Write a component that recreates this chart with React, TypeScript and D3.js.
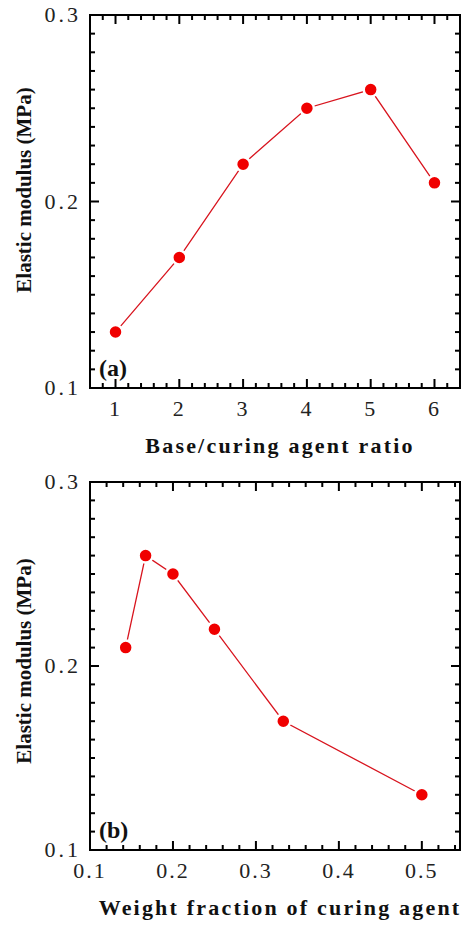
import React, { useEffect, useRef } from 'react';
import * as d3 from 'd3';

// panel (a)
const ratio = [1, 2, 3, 4, 5, 6];
const modulusA = [0.13, 0.17, 0.22, 0.25, 0.26, 0.21];
const ratioTicks = [1, 2, 3, 4, 5, 6];

// panel (b)
const weightFraction = [0.143, 0.167, 0.2, 0.25, 0.333, 0.5];
const modulusB = [0.21, 0.26, 0.25, 0.22, 0.17, 0.13];
const fractionTicks = [0.1, 0.2, 0.3, 0.4, 0.5];

const modulusTicks = [0.1, 0.2, 0.3];

const W = 462;
const H = 925;
const FONT = '"Liberation Serif", "Times New Roman", serif';

type Panel = {
  top: number;
  bottom: number;
  xDomain: [number, number];
  xs: number[];
  ys: number[];
  xTicks: number[];
  xMinor: number;
  xFormat: (d: number) => string;
  xTitle: string;
  xTitleY: number;
  tag: string;
  yTitleY: number;
};

const near = (v: number, arr: number[]) => arr.some((t) => Math.abs(t - v) < 1e-6);

function drawPanel(svg: any, p: Panel) {
  const left = 90;
  const right = 460;
  const x = d3.scaleLinear().domain(p.xDomain).range([left, right]);
  const y = d3.scaleLinear().domain([0.1, 0.3]).range([p.bottom, p.top]);

  const xMinorVals = d3.range(p.xDomain[0], p.xDomain[1] + 1e-9, p.xMinor);
  const yMinorVals = d3.range(0.1, 0.3 + 1e-9, 0.01);
  const tw = 2;

  // inward ticks as small filled bars, all four sides
  const xt = svg.append('g').attr('fill', '#000');
  xMinorVals.forEach((v) => {
    const len = near(v, p.xTicks) ? 9 : 5;
    xt.append('rect').attr('x', x(v) - tw / 2).attr('y', p.bottom - len).attr('width', tw).attr('height', len);
    xt.append('rect').attr('x', x(v) - tw / 2).attr('y', p.top).attr('width', tw).attr('height', len);
  });
  yMinorVals.forEach((v) => {
    const len = near(v, modulusTicks) ? 9 : 5;
    xt.append('rect').attr('x', left).attr('y', y(v) - tw / 2).attr('width', len).attr('height', tw);
    xt.append('rect').attr('x', right - len).attr('y', y(v) - tw / 2).attr('width', len).attr('height', tw);
  });

  svg.append('path')
    .attr('d', `M${left},${p.top}H${right}V${p.bottom}H${left}Z`)
    .attr('fill', 'none').attr('stroke', '#000').attr('stroke-width', 2);

  // tick labels
  svg.selectAll(null).data(p.xTicks).enter().append('text')
    .attr('x', (d: number) => x(d)).attr('y', p.bottom + 28)
    .attr('text-anchor', 'middle')
    .attr('font-family', FONT).attr('font-size', 22).attr('letter-spacing', 2)
    .attr('fill', '#222')
    .text(p.xFormat);

  svg.selectAll(null).data(modulusTicks).enter().append('text')
    .attr('x', left - 9).attr('y', (d: number) => y(d) + 7)
    .attr('text-anchor', 'end')
    .attr('font-family', FONT).attr('font-size', 22).attr('letter-spacing', 3)
    .attr('fill', '#222')
    .text((d: number) => d3.format('.1f')(d));

  // axis titles
  svg.append('text')
    .attr('x', (left + right) / 2 + 5).attr('y', p.xTitleY)
    .attr('text-anchor', 'middle')
    .attr('font-family', FONT).attr('font-size', 22).attr('font-weight', 'bold')
    .attr('letter-spacing', 2.2)
    .attr('fill', '#111')
    .text(p.xTitle);

  svg.append('text')
    .attr('transform', `translate(31,${p.yTitleY}) rotate(-90)`)
    .attr('text-anchor', 'middle')
    .attr('font-family', FONT).attr('font-size', 21).attr('font-weight', 'bold')
    .attr('fill', '#111')
    .text('Elastic modulus (MPa)');

  svg.append('text')
    .attr('x', left + 9).attr('y', p.bottom - 12)
    .attr('font-family', FONT).attr('font-size', 24).attr('font-weight', 'bold')
    .attr('fill', '#111')
    .text(p.tag);

  // data
  const pts = p.xs.map((v, i) => [x(v), y(p.ys[i])] as [number, number]);
  svg.append('path')
    .attr('d', d3.line()(pts))
    .attr('fill', 'none').attr('stroke', '#d8141e').attr('stroke-width', 1.3);
  svg.selectAll(null).data(pts).enter().append('circle')
    .attr('cx', (d: [number, number]) => d[0]).attr('cy', (d: [number, number]) => d[1]).attr('r', 7)
    .attr('fill', '#f00000').attr('stroke', '#fff').attr('stroke-width', 2.5);
}

export default function App() {
  const ref = useRef<SVGSVGElement>(null);

  useEffect(() => {
    const svg = d3.select(ref.current as SVGSVGElement);
    svg.selectAll('*').remove();

    drawPanel(svg, {
      top: 15, bottom: 388, xDomain: [0.6, 6.4],
      xs: ratio, ys: modulusA, xTicks: ratioTicks, xMinor: 0.2,
      xFormat: (d) => String(d),
      xTitle: 'Base/curing agent ratio', xTitleY: 453,
      tag: '(a)', yTitleY: 190,
    });
    drawPanel(svg, {
      top: 482, bottom: 850, xDomain: [0.1, 0.546],
      xs: weightFraction, ys: modulusB, xTicks: fractionTicks, xMinor: 0.02,
      xFormat: (d) => d3.format('.1f')(d),
      xTitle: 'Weight fraction of curing agent', xTitleY: 915,
      tag: '(b)', yTitleY: 661,
    });
  }, []);

  return (
    <svg
      ref={ref}
      width={W}
      height={H}
      style={{ position: 'absolute', left: 0, top: 0, display: 'block', background: '#fff' }}
    />
  );
}
